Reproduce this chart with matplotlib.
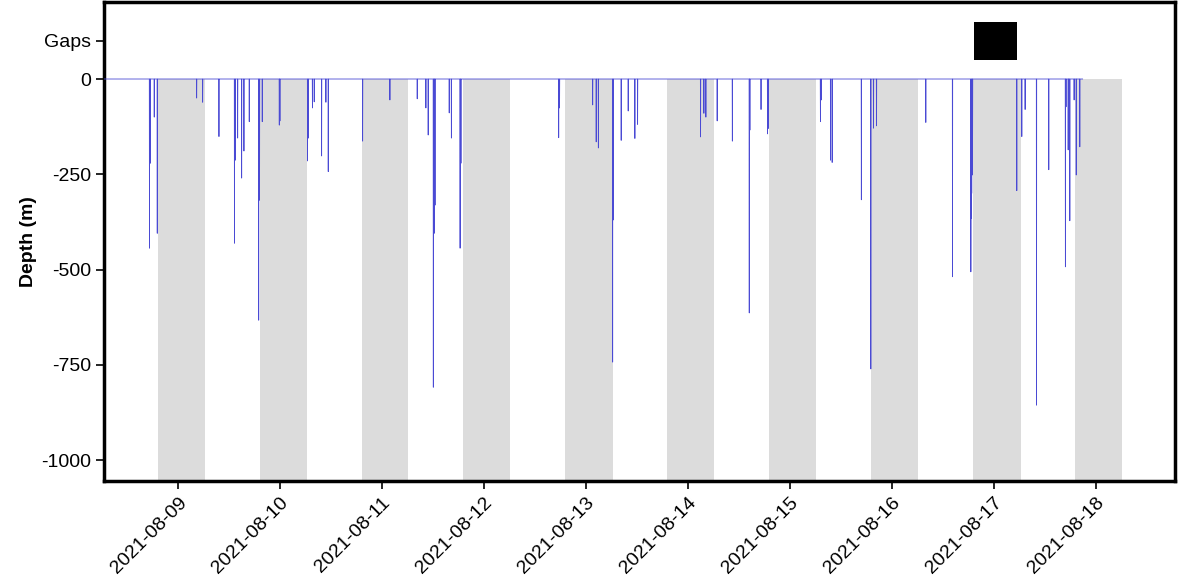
import numpy as np
import pandas as pd
import matplotlib
matplotlib.use('Agg')
import matplotlib.pyplot as plt
import matplotlib.dates as mdates

plt.rcParams['font.family'] = ['Liberation Sans', 'DejaVu Sans']

# time reference for all hour offsets below
T0 = pd.Timestamp('2021-08-08 00:00')

# dives: hours after T0 and maximum depth (m)
dive_hours = [17.3, 17.5, 18.42, 19.13, 28.40, 29.81, 33.65, 37.3, 37.5, 38.05,
              38.99, 39.53, 40.78, 43.0, 43.2, 43.84, 47.85, 48.0, 54.5, 54.7,
              55.65, 56.07, 57.81, 58.82, 59.37, 67.46, 73.88, 80.31, 82.35, 82.89,
              84.1, 84.3, 84.5, 87.84, 88.35, 90.4, 90.6, 113.6, 113.8, 121.6,
              122.43, 122.94, 126.3, 126.45, 128.31, 129.96, 131.53, 132.17, 146.99, 147.77,
              148.24, 150.9, 154.47, 158.45, 158.6, 161.22, 162.75, 162.9, 175.2, 175.4,
              177.58, 177.96, 184.83, 187.06, 187.69, 188.4, 200.0, 206.28, 210.6, 210.7,
              210.8, 210.9, 211.0, 221.41, 222.59, 223.37, 226.05, 228.94, 232.85, 233.0,
              233.5, 233.6, 233.89, 234.9, 235.4, 236.24]
dive_depths = [444, 221, 100, 405, 50, 61, 151, 431, 213, 155,
               260, 189, 112, 633, 318, 112, 121, 110, 215, 155,
               76, 60, 202, 61, 243, 163, 55, 52, 76, 147,
               809, 405, 331, 89, 155, 444, 221, 154, 76, 68,
               165, 181, 743, 370, 161, 84, 156, 119, 152, 90,
               100, 110, 163, 614, 134, 80, 144, 130, 112, 55,
               213, 219, 317, 761, 129, 123, 114, 519, 506, 366,
               300, 252, 182, 293, 151, 80, 856, 238, 493, 73,
               186, 73, 372, 55, 252, 178]

record_start = '2021-08-08 06:36'
record_end = '2021-08-17 20:54'

# night periods (grey shading)
night_start = ['2021-08-08 19:15', '2021-08-09 19:15', '2021-08-10 19:12', '2021-08-11 19:10',
               '2021-08-12 19:12', '2021-08-13 19:08', '2021-08-14 19:08', '2021-08-15 19:10',
               '2021-08-16 19:08', '2021-08-17 19:10']
night_end = ['2021-08-09 06:20', '2021-08-10 06:17', '2021-08-11 06:12', '2021-08-12 06:12',
             '2021-08-13 06:20', '2021-08-14 06:12', '2021-08-15 06:12', '2021-08-16 06:12',
             '2021-08-17 06:20', '2021-08-18 06:12']

# transmission gaps
gap_start = ['2021-08-16 19:20']
gap_end = ['2021-08-17 05:25']

day_ticks = pd.date_range('2021-08-09', '2021-08-18', freq='D')

# build the depth profile from the dive list
half = 0.04  # hours down / up
prof_t = [pd.Timestamp(record_start)]
prof_d = [0.0]
for h, d in zip(dive_hours, dive_depths):
    t = T0 + pd.Timedelta(hours=h)
    prof_t += [t - pd.Timedelta(hours=half), t, t + pd.Timedelta(hours=half)]
    prof_d += [0.0, -d, 0.0]
prof_t.append(pd.Timestamp(record_end))
prof_d.append(0.0)

YBOT, YTOP = -1055, 202

fig = plt.figure(figsize=(11.78, 5.83), dpi=100)
ax = fig.add_axes([0.0883, 0.175, 0.909, 0.8215])

for s, e in zip(night_start, night_end):
    ax.fill_between([pd.Timestamp(s), pd.Timestamp(e)], YBOT, 0, color='#dcdcdc',
                    linewidth=0, zorder=1)

for s, e in zip(gap_start, gap_end):
    ax.fill_between([pd.Timestamp(s), pd.Timestamp(e)], 50, 150, color='black',
                    linewidth=0, zorder=2)

ax.plot(prof_t, prof_d, color='#4a4ad4', linewidth=0.6, zorder=3)

ax.set_xlim(T0 + pd.Timedelta(hours=6.6), T0 + pd.Timedelta(hours=258.6))
ax.set_ylim(YBOT, YTOP)

ax.set_yticks([100, 0, -250, -500, -750, -1000])
ax.set_yticklabels(['Gaps', '0', '-250', '-500', '-750', '-1000'])
ax.set_xticks(day_ticks)
ax.xaxis.set_major_formatter(mdates.DateFormatter('%Y-%m-%d'))
plt.setp(ax.get_xticklabels(), rotation=45, ha='right', rotation_mode='anchor')

ax.tick_params(axis='both', labelsize=14, length=6, width=1.2, color='black')
ax.set_ylabel('Depth (m)', fontsize=14, fontweight='bold', labelpad=3)

for sp in ax.spines.values():
    sp.set_linewidth(2.5)
    sp.set_color('black')

fig.savefig('out.png', dpi=100)
